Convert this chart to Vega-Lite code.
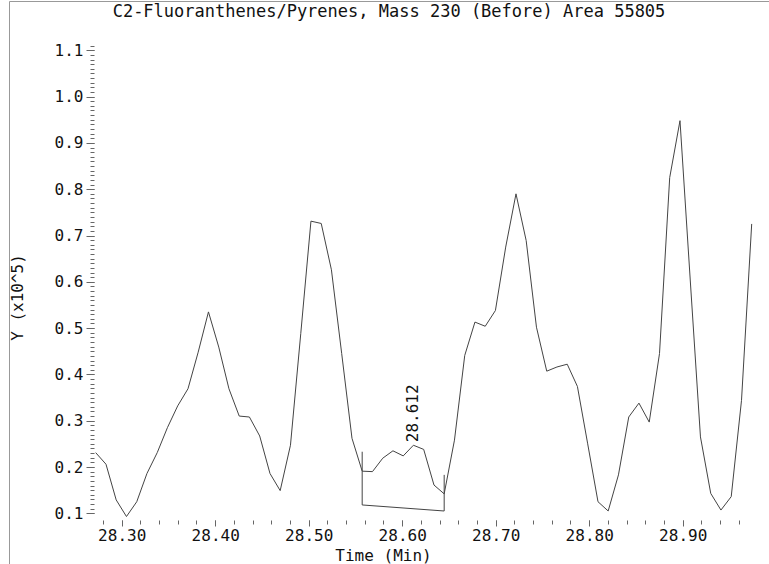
{
  "$schema": "https://vega.github.io/schema/vega-lite/v6.json",
  "width": 760,
  "height": 563,
  "autosize": {"type": "none"},
  "padding": {"left": 9, "top": 1, "right": 0, "bottom": 0},
  "background": "white",
  "config": {
    "view": {"stroke": null},
    "font": "DejaVu Sans Mono",
    "axis": {"grid": false, "labelFont": "DejaVu Sans Mono", "titleFont": "DejaVu Sans Mono", "labelFontSize": 16, "titleFontSize": 16, "titleFontWeight": "normal", "labelColor": "#111", "titleColor": "#111", "tickColor": "#666", "tickWidth": 1, "domain": false, "labelFlush": false, "labelOverlap": false, "labelBound": false}
  },
  "title": {"text": "C2-Fluoranthenes/Pyrenes, Mass 230 (Before) Area 55805", "anchor": "middle", "frame": "group", "offset": -33, "baseline": "alphabetic", "font": "DejaVu Sans Mono", "fontSize": 17, "fontWeight": "normal", "color": "#111"},
  "datasets": {
    "trace": [
      {"time": 28.2722, "value": 0.231}, {"time": 28.2832, "value": 0.206}, {"time": 28.2941, "value": 0.129}, {"time": 28.3051, "value": 0.093},
      {"time": 28.3161, "value": 0.125}, {"time": 28.3270, "value": 0.186}, {"time": 28.3380, "value": 0.231}, {"time": 28.3489, "value": 0.285},
      {"time": 28.3599, "value": 0.332}, {"time": 28.3709, "value": 0.369}, {"time": 28.3818, "value": 0.448}, {"time": 28.3928, "value": 0.535},
      {"time": 28.4038, "value": 0.459}, {"time": 28.4147, "value": 0.369}, {"time": 28.4257, "value": 0.310}, {"time": 28.4366, "value": 0.308},
      {"time": 28.4476, "value": 0.267}, {"time": 28.4586, "value": 0.186}, {"time": 28.4695, "value": 0.149}, {"time": 28.4805, "value": 0.247},
      {"time": 28.4915, "value": 0.488}, {"time": 28.5024, "value": 0.731}, {"time": 28.5134, "value": 0.726}, {"time": 28.5243, "value": 0.626},
      {"time": 28.5353, "value": 0.445}, {"time": 28.5463, "value": 0.262}, {"time": 28.5572, "value": 0.191}, {"time": 28.5682, "value": 0.190},
      {"time": 28.5792, "value": 0.219}, {"time": 28.5901, "value": 0.235}, {"time": 28.6011, "value": 0.224}, {"time": 28.6120, "value": 0.247},
      {"time": 28.6230, "value": 0.238}, {"time": 28.6340, "value": 0.161}, {"time": 28.6449, "value": 0.142}, {"time": 28.6559, "value": 0.258},
      {"time": 28.6669, "value": 0.441}, {"time": 28.6778, "value": 0.513}, {"time": 28.6888, "value": 0.504}, {"time": 28.6997, "value": 0.538},
      {"time": 28.7107, "value": 0.675}, {"time": 28.7217, "value": 0.790}, {"time": 28.7326, "value": 0.689}, {"time": 28.7436, "value": 0.502},
      {"time": 28.7546, "value": 0.407}, {"time": 28.7655, "value": 0.416}, {"time": 28.7765, "value": 0.422}, {"time": 28.7874, "value": 0.374},
      {"time": 28.7984, "value": 0.250}, {"time": 28.8094, "value": 0.125}, {"time": 28.8203, "value": 0.105}, {"time": 28.8313, "value": 0.183},
      {"time": 28.8423, "value": 0.308}, {"time": 28.8532, "value": 0.338}, {"time": 28.8642, "value": 0.297}, {"time": 28.8752, "value": 0.445},
      {"time": 28.8861, "value": 0.825}, {"time": 28.8971, "value": 0.948}, {"time": 28.9080, "value": 0.606}, {"time": 28.9190, "value": 0.265},
      {"time": 28.9300, "value": 0.143}, {"time": 28.9409, "value": 0.107}, {"time": 28.9519, "value": 0.136}, {"time": 28.9629, "value": 0.344},
      {"time": 28.9738, "value": 0.725}
    ],
    "baseline": [
      {"time": 28.5572, "value": 0.233, "seq": 1},
      {"time": 28.5572, "value": 0.118, "seq": 2},
      {"time": 28.6449, "value": 0.105, "seq": 3},
      {"time": 28.6449, "value": 0.183, "seq": 4}
    ],
    "apex": [{"time": 28.612, "value": 0.247, "label": "28.612"}]
  },
  "layer": [
    {
      "data": {"name": "trace"},
      "mark": {"type": "line", "color": "#444", "strokeWidth": 1},
      "encoding": {
        "x": {"field": "time", "type": "quantitative", "scale": {"domain": [28.17947, 28.9923], "nice": false, "zero": false},
          "axis": {"orient": "bottom", "offset": -44, "values": [28.3, 28.4, 28.5, 28.6, 28.7, 28.8, 28.9], "format": ".2f", "tickSize": 6, "labelPadding": 1,
            "title": "Time (Min)", "titleX": 374, "titleY": 40, "titleBaseline": "alphabetic", "titleAlign": "center"}},
        "y": {"field": "value", "type": "quantitative", "scale": {"domain": [-0.0095, 1.2065], "nice": false, "zero": false},
          "axis": {"orient": "left", "offset": -85, "values": [0.1, 0.2, 0.3, 0.4, 0.5, 0.6, 0.7, 0.8, 0.9, 1.0, 1.1], "format": ".1f", "tickSize": 8, "labelPadding": 3,
            "title": "Y (x10^5)", "titleX": -72, "titleY": 296, "titleAngle": 270, "titleBaseline": "alphabetic", "titleAlign": "center"}}
      }
    },
    {
      "data": {"name": "baseline"},
      "mark": {"type": "line", "color": "#444", "strokeWidth": 1},
      "encoding": {
        "x": {"field": "time", "type": "quantitative",
          "axis": {"orient": "bottom", "offset": -44, "values": [28.28, 28.3, 28.32, 28.34, 28.36, 28.38, 28.4, 28.42, 28.44, 28.46, 28.48, 28.5, 28.52, 28.54, 28.56, 28.58, 28.6, 28.62, 28.64, 28.66, 28.68, 28.7, 28.72, 28.74, 28.76, 28.78, 28.8, 28.82, 28.84, 28.86, 28.88, 28.9, 28.92, 28.94, 28.96],
            "tickSize": 4, "labels": false, "title": null}},
        "y": {"field": "value", "type": "quantitative",
          "axis": {"orient": "left", "offset": -85, "values": [0.1, 0.11, 0.12, 0.13, 0.14, 0.15, 0.16, 0.17, 0.18, 0.19, 0.2, 0.21, 0.22, 0.23, 0.24, 0.25, 0.26, 0.27, 0.28, 0.29, 0.3, 0.31, 0.32, 0.33, 0.34, 0.35, 0.36, 0.37, 0.38, 0.39, 0.4, 0.41, 0.42, 0.43, 0.44, 0.45, 0.46, 0.47, 0.48, 0.49, 0.5, 0.51, 0.52, 0.53, 0.54, 0.55, 0.56, 0.57, 0.58, 0.59, 0.6, 0.61, 0.62, 0.63, 0.64, 0.65, 0.66, 0.67, 0.68, 0.69, 0.7, 0.71, 0.72, 0.73, 0.74, 0.75, 0.76, 0.77, 0.78, 0.79, 0.8, 0.81, 0.82, 0.83, 0.84, 0.85, 0.86, 0.87, 0.88, 0.89, 0.9, 0.91, 0.92, 0.93, 0.94, 0.95, 0.96, 0.97, 0.98, 0.99, 1.0, 1.01, 1.02, 1.03, 1.04, 1.05, 1.06, 1.07, 1.08, 1.09, 1.1, 1.11],
            "tickSize": 4, "labels": false, "title": null}},
        "order": {"field": "seq", "type": "quantitative"}
      }
    },
    {
      "data": {"name": "apex"},
      "mark": {"type": "text", "angle": 270, "align": "left", "baseline": "middle", "dx": 3, "font": "DejaVu Sans Mono", "fontSize": 16, "color": "#111"},
      "encoding": {
        "x": {"field": "time", "type": "quantitative",
          "axis": {"orient": "top", "offset": 0, "domain": true, "domainColor": "#999", "ticks": false, "labels": false, "title": null}},
        "y": {"field": "value", "type": "quantitative",
          "axis": {"orient": "left", "offset": 0, "domain": true, "domainColor": "#999", "ticks": false, "labels": false, "title": null}},
        "text": {"field": "label", "type": "nominal"}
      }
    }
  ],
  "resolve": {"axis": {"x": "independent", "y": "independent"}}
}
